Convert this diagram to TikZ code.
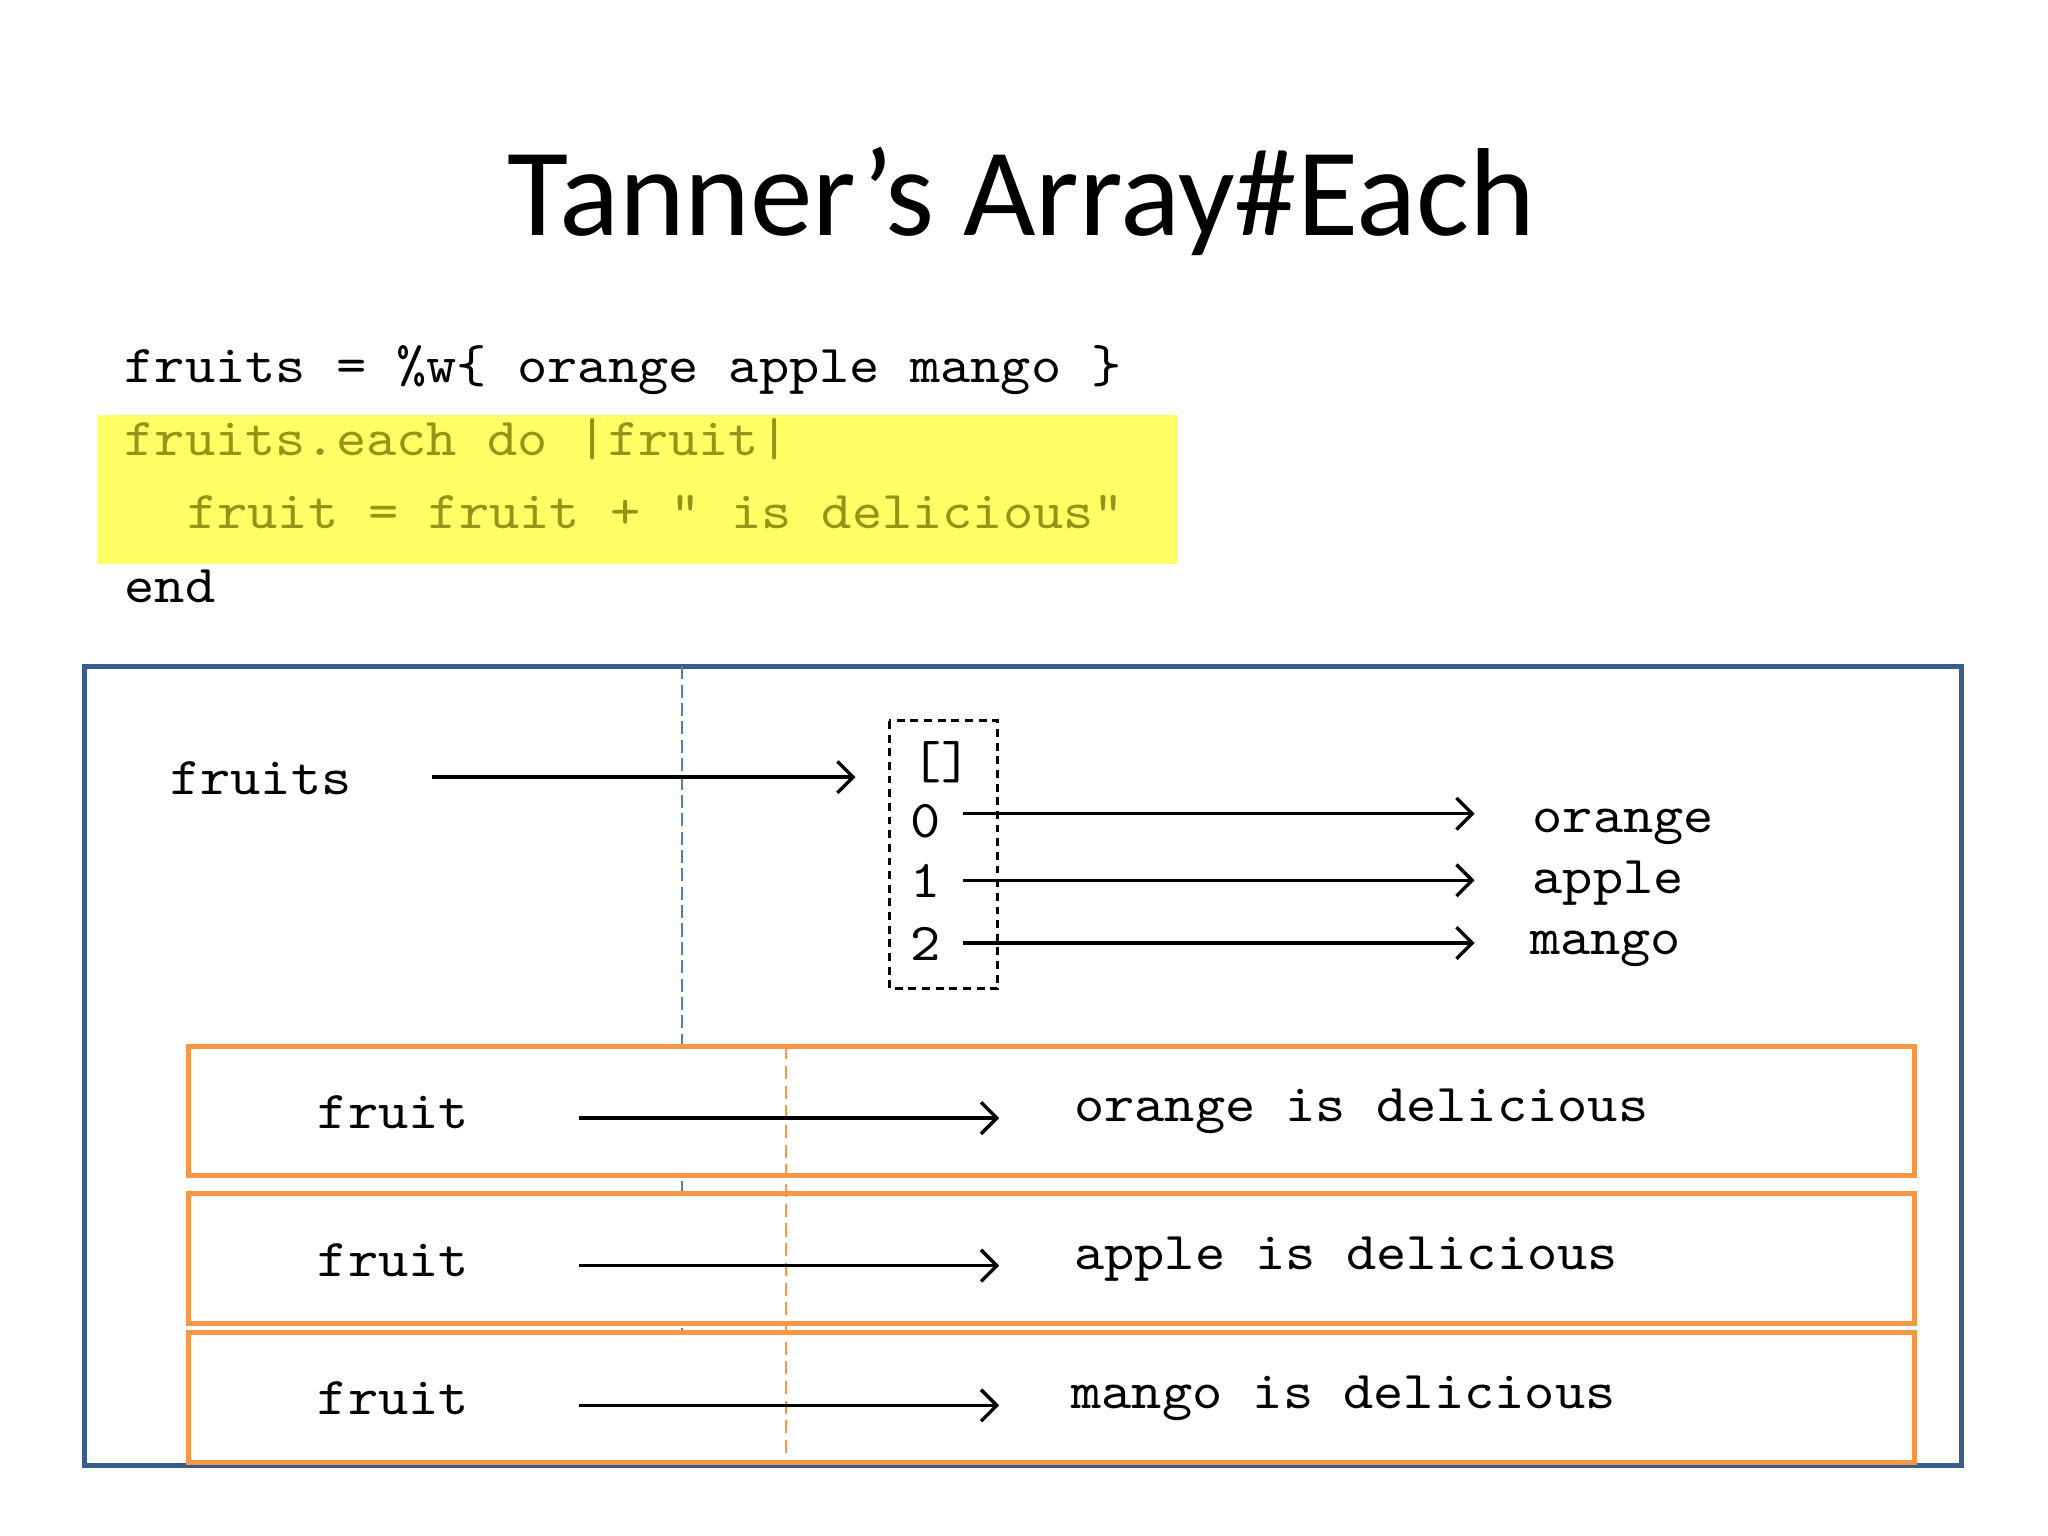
\documentclass[tikz,border=0pt]{standalone}
\usepackage{fontspec}
\setmainfont{Carlito}
\newfontfamily\codefont[FakeStretch=1.08]{lmmono10-regular.otf}
\usetikzlibrary{arrows.meta}

\definecolor{boxBlue}{RGB}{56,93,138}
\definecolor{lineBlue}{RGB}{79,129,189}
\definecolor{boxOrange}{RGB}{247,150,70}
\definecolor{hlYellow}{RGB}{255,255,102}
\definecolor{hlText}{RGB}{152,146,22}

\tikzset{
  codetxt/.style={font=\codefont\fontsize{20.3}{24}\selectfont, inner sep=0pt, anchor=base west},
  ptr/.style={-{Straight Barb[length=6pt,width=12pt,line width=1.3pt]}, line width=1.3pt},
}

\begin{document}
\begin{tikzpicture}[x=0.4975pt,y=0.4975pt,yscale=-1,xscale=1]
%set diagram left start at 0, and has height of 1176
\path (0,0) rectangle (1568,1176);

% Title
\draw (782,180) node (title) [anchor=base][inner sep=0pt] {\fontsize{47.7}{56}\selectfont Tanner’s Array\#Each};

%Shape: Highlight
\fill [hlYellow] (74,318) rectangle (902,432);

% Code lines
\draw (95,293) node (codeA) [codetxt] {fruits = \%w\{ orange apple mango \}};
\draw (95,349) node (codeB) [codetxt, text=hlText] {fruits.each do |fruit|};
\draw (143,405) node (codeC) [codetxt, text=hlText] {fruit = fruit + " is delicious"};
\draw (95,461) node (codeD) [codetxt] {end};

%Shape: Outer box
\draw [boxBlue, line width=1.9pt] (65,510) rectangle (1502,1122);
%Straight Lines: blue divider
\draw [lineBlue, line width=0.75pt, dash pattern=on 5pt off 2pt] (522,510) -- (522,1020);

%Shape: Array box
\draw [line width=1.15pt, dash pattern=on 3pt off 2.2pt] (681,552) rectangle (764,757);

% Text Node
\draw (130,608) node (fruitsLbl) [codetxt] {fruits};
\draw (721,596) node (brk) [codetxt, anchor=base] {[]};
\draw (709,641) node (idxA) [codetxt, anchor=base] {0};
\draw (709,687) node (idxB) [codetxt, anchor=base] {1};
\draw (709,735) node (idxC) [codetxt, anchor=base] {2};
\draw (1173,637) node (valOrange) [codetxt] {orange};
\draw (1173,684) node (valApple) [codetxt] {apple};
\draw (1171,731) node (valMango) [codetxt] {mango};

% arrow ends
\coordinate (fruitsTail) at (331,595);
\coordinate (fruitsHead) at (655,595);
\coordinate (tailA) at (737,623);
\coordinate (headA) at (1129,623);
\coordinate (tailB) at (737,674);
\coordinate (headB) at (1129,674);
\coordinate (tailC) at (737,722);
\coordinate (headC) at (1129,722);

\draw [ptr] (fruitsTail) -- (fruitsHead);
\draw [ptr] (tailA) -- (headA);
\draw [ptr] (tailB) -- (headB);
\draw [ptr] (tailC) -- (headC);

%Shape: Iteration boxes
\draw [boxOrange, fill=white, line width=1.9pt] (144,801) rectangle (1466,900);
\draw [boxOrange, fill=white, line width=1.9pt] (144,914) rectangle (1466,1013);
\draw [boxOrange, fill=white, line width=1.9pt] (144,1020) rectangle (1466,1120);
%Straight Lines: orange divider
\draw [boxOrange, line width=0.75pt, dash pattern=on 5pt off 2.5pt] (602,801) -- (602,1120);

% Text Node
\draw (243,864) node (fruitA) [codetxt] {fruit};
\draw (243,977) node (fruitB) [codetxt] {fruit};
\draw (243,1083) node (fruitC) [codetxt] {fruit};
\draw (822,859) node (resA) [codetxt] {orange is delicious};
\draw (822,972) node (resB) [codetxt] {apple is delicious};
\draw (820,1078) node (resC) [codetxt] {mango is delicious};

\coordinate (rowTailA) at (443,856);
\coordinate (rowHeadA) at (765,856);
\coordinate (rowTailB) at (443,969);
\coordinate (rowHeadB) at (765,969);
\coordinate (rowTailC) at (443,1076);
\coordinate (rowHeadC) at (765,1076);

\draw [ptr] (rowTailA) -- (rowHeadA);
\draw [ptr] (rowTailB) -- (rowHeadB);
\draw [ptr] (rowTailC) -- (rowHeadC);

\end{tikzpicture}
\end{document}
